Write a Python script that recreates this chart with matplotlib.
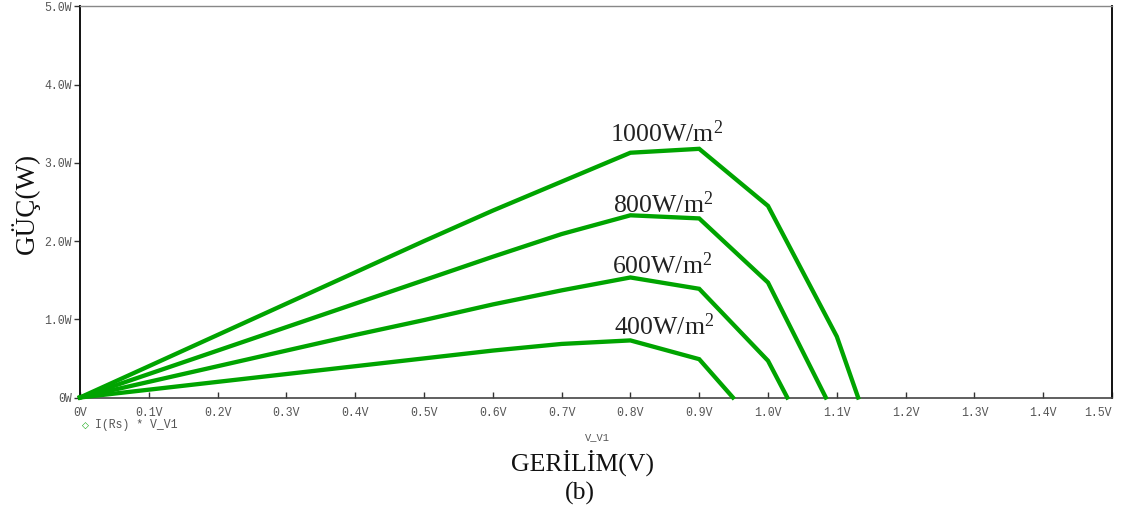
import matplotlib
matplotlib.use("Agg")
import matplotlib.pyplot as plt

# Voltage sweep (V) and output power (W) for each irradiance level
v_1000 = [0.0, 0.1, 0.2, 0.3, 0.4, 0.5, 0.6, 0.7, 0.8, 0.9, 1.0, 1.1, 1.131]
p_1000 = [0.0, 0.40, 0.80, 1.20, 1.60, 2.00, 2.39, 2.76, 3.13, 3.18, 2.45, 0.78, 0.0]

v_800 = [0.0, 0.1, 0.2, 0.3, 0.4, 0.5, 0.6, 0.7, 0.8, 0.9, 1.0, 1.084]
p_800 = [0.0, 0.30, 0.60, 0.90, 1.20, 1.50, 1.80, 2.09, 2.33, 2.29, 1.47, 0.0]

v_600 = [0.0, 0.1, 0.2, 0.3, 0.4, 0.5, 0.6, 0.7, 0.8, 0.9, 1.0, 1.028]
p_600 = [0.0, 0.20, 0.40, 0.60, 0.80, 0.99, 1.19, 1.37, 1.535, 1.39, 0.47, 0.0]

v_400 = [0.0, 0.1, 0.2, 0.3, 0.4, 0.5, 0.6, 0.7, 0.8, 0.9, 0.949]
p_400 = [0.0, 0.10, 0.20, 0.30, 0.40, 0.50, 0.60, 0.685, 0.73, 0.49, 0.0]

irradiance_labels = ["1000W/m$^2$", "800W/m$^2$", "600W/m$^2$", "400W/m$^2$"]
label_pos = [(0.771, 3.38), (0.775, 2.46), (0.773, 1.68), (0.776, 0.91)]

x_ticks = [0.0, 0.1, 0.2, 0.3, 0.4, 0.5, 0.6, 0.7, 0.8, 0.9, 1.0, 1.1, 1.2, 1.3, 1.4, 1.5]
x_tick_labels = ["0V", "0.1V", "0.2V", "0.3V", "0.4V", "0.5V", "0.6V", "0.7V",
                 "0.8V", "0.9V", "1.0V", "1.1V", "1.2V", "1.3V", "1.4V", "1.5V"]
y_ticks = [0.0, 1.0, 2.0, 3.0, 4.0, 5.0]
y_tick_labels = ["0W", "1.0W", "2.0W", "3.0W", "4.0W", "5.0W"]

plt.rcParams["mathtext.fontset"] = "custom"
plt.rcParams["mathtext.rm"] = "Liberation Serif"
plt.rcParams["mathtext.it"] = "Liberation Serif:italic"

GREEN = "#00a400"
MONO = "Liberation Mono"
SERIF = "Liberation Serif"
GRAY = "#555555"

fig = plt.figure(figsize=(11.21, 5.11), dpi=100)
ax = fig.add_axes([80 / 1121, 113.5 / 511, 1032 / 1121, 391 / 511])

for v, p in [(v_1000, p_1000), (v_800, p_800), (v_600, p_600), (v_400, p_400)]:
    ax.plot(v, p, color=GREEN, lw=3.1, solid_joinstyle="miter", clip_on=False, zorder=3)

for text, (x, y) in zip(irradiance_labels, label_pos):
    ax.text(x, y, text, fontsize=18.5, family=SERIF, color="#222222",
            ha="left", va="center")

ax.set_xlim(0, 1.5)
ax.set_ylim(0, 5.0)
ax.set_xticks(x_ticks)
ax.set_xticklabels(x_tick_labels)
ax.set_yticks(y_ticks)
ax.set_yticklabels(y_tick_labels)

ax.tick_params(axis="x", direction="in", length=4, width=1.0, color="#333333",
               labelsize=8.3, labelcolor=GRAY, pad=6.5)
ax.tick_params(axis="y", direction="out", length=4, width=1.0, color="#333333",
               labelsize=8.3, labelcolor=GRAY, pad=2)
for lab in ax.get_xticklabels() + ax.get_yticklabels():
    lab.set_family(MONO)
# the last voltage label sits flush with the right end of the axis
ax.get_xticklabels()[-1].set_horizontalalignment("right")

ax.spines["top"].set_color("#888888")
ax.spines["top"].set_linewidth(1.0)
ax.spines["right"].set_color("#111111")
ax.spines["right"].set_linewidth(1.4)
ax.spines["left"].set_color("#111111")
ax.spines["left"].set_linewidth(1.4)
ax.spines["bottom"].set_color("#444444")
ax.spines["bottom"].set_linewidth(1.2)

# Trace legend under the x axis
fig.text(85 / 1121, 1 - 425 / 511, "\u25c7", fontsize=6.5, color=GREEN,
         family="DejaVu Sans", ha="center", va="center", fontweight="bold")
fig.text(95 / 1121, 1 - 425 / 511, "I(Rs) * V_V1", fontsize=8.3, color=GRAY,
         family=MONO, ha="left", va="center")

# Simulator x variable name
fig.text(597 / 1121, 1 - 437 / 511, "V_V1", fontsize=7.5, color=GRAY,
         family=MONO, ha="center", va="center")

fig.text(583 / 1121, 1 - 463 / 511, "GERİLİM(V)", fontsize=18.5, family=SERIF,
         color="#111111", ha="center", va="center")
fig.text(580 / 1121, 1 - 493 / 511, "(b)", fontsize=18.5, family=SERIF,
         color="#111111", ha="center", va="center")
fig.text(25 / 1121, 1 - 203 / 511, "GÜÇ(W)", fontsize=19.5, family=SERIF,
         color="#111111", ha="center", va="center", rotation=90)

fig.savefig("out.png", dpi=100, facecolor="white")
